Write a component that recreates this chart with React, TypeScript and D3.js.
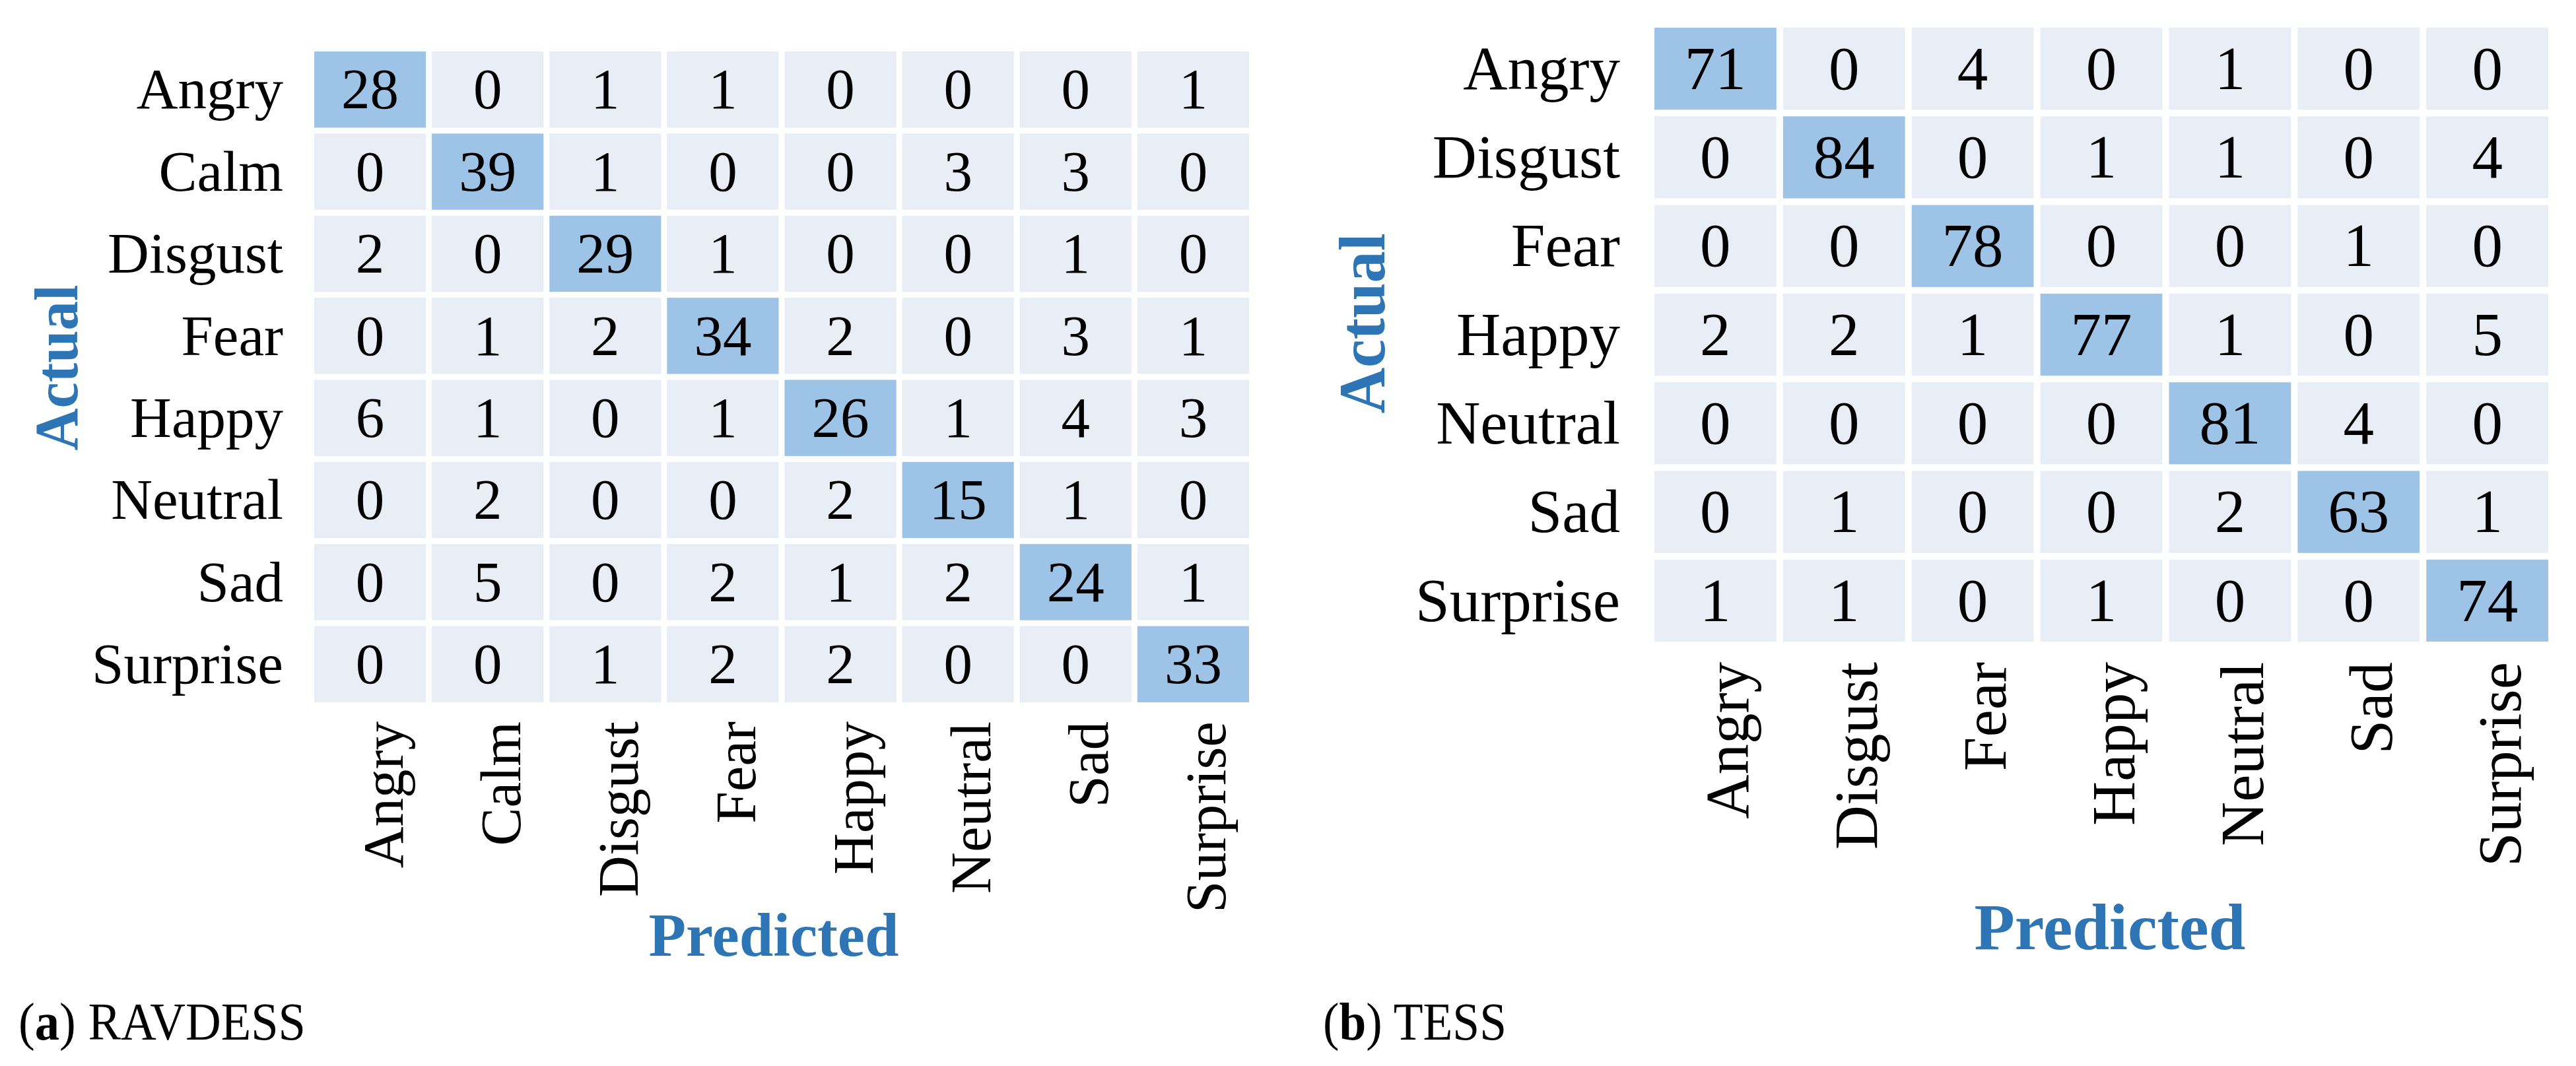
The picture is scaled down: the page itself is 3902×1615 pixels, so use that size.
import React from "react";
import * as d3 from "d3";

// ---------- DATA ----------
const ravdessLabels = ["Angry", "Calm", "Disgust", "Fear", "Happy", "Neutral", "Sad", "Surprise"];
const ravdessMatrix = [
  [28, 0, 1, 1, 0, 0, 0, 1],
  [0, 39, 1, 0, 0, 3, 3, 0],
  [2, 0, 29, 1, 0, 0, 1, 0],
  [0, 1, 2, 34, 2, 0, 3, 1],
  [6, 1, 0, 1, 26, 1, 4, 3],
  [0, 2, 0, 0, 2, 15, 1, 0],
  [0, 5, 0, 2, 1, 2, 24, 1],
  [0, 0, 1, 2, 2, 0, 0, 33],
];

const tessLabels = ["Angry", "Disgust", "Fear", "Happy", "Neutral", "Sad", "Surprise"];
const tessMatrix = [
  [71, 0, 4, 0, 1, 0, 0],
  [0, 84, 0, 1, 1, 0, 4],
  [0, 0, 78, 0, 0, 1, 0],
  [2, 2, 1, 77, 1, 0, 5],
  [0, 0, 0, 0, 81, 4, 0],
  [0, 1, 0, 0, 2, 63, 1],
  [1, 1, 0, 1, 0, 0, 74],
];

const axisTitles = { x: "Predicted", y: "Actual" };
const captionA = { tag: "a", name: "RAVDESS" };
const captionB = { tag: "b", name: "TESS" };

// ---------- STYLE ----------
const FONT = '"Liberation Serif", "Times New Roman", Times, serif';
const LIGHT = "#E8EDF6";
const DARK = "#9DC3E6";
const TITLE_BLUE = "#2E75B6";

type Layout = {
  x0: number; x1: number; y0: number; y1: number;
  padX: number; padY: number;
  font: number;
  rowLabelX: number;
  colLabelTop: number;
  colLabelShift: number;
  titleFont: number;
  xTitleX: number; xTitleY: number; xTitleLen: number;
  yTitleX: number; yTitleY: number; yTitleLen: number;
};

function Matrix({ labels, matrix, L }: { labels: string[]; matrix: number[][]; L: Layout }) {
  const idx = labels.map((_, i) => i);
  const x = d3.scaleBand<number>().domain(idx).range([L.x0, L.x1]).paddingInner(L.padX).paddingOuter(0);
  const y = d3.scaleBand<number>().domain(idx).range([L.y0, L.y1]).paddingInner(L.padY).paddingOuter(0);
  const color = d3.scaleThreshold<number, string>().domain([10]).range([LIGHT, DARK]);

  return (
    <g>
      {matrix.map((row, r) =>
        row.map((v, c) => (
          <g key={`${r}-${c}`}>
            <rect x={x(c)} y={y(r)} width={x.bandwidth()} height={y.bandwidth()} fill={color(v)} />
            <text
              x={(x(c) as number) + x.bandwidth() / 2}
              y={(y(r) as number) + y.bandwidth() / 2}
              dy="0.33em"
              textAnchor="middle"
              fontFamily={FONT}
              fontSize={L.font}
              fill="#000"
            >
              {v}
            </text>
          </g>
        ))
      )}
      {labels.map((lab, r) => (
        <text
          key={`r${r}`}
          x={L.rowLabelX}
          y={(y(r) as number) + y.bandwidth() / 2}
          dy="0.33em"
          textAnchor="end"
          fontFamily={FONT}
          fontSize={L.font}
          fill="#000"
        >
          {lab}
        </text>
      ))}
      {labels.map((lab, c) => {
        const cx = (x(c) as number) + x.bandwidth() / 2 + L.colLabelShift;
        return (
          <text
            key={`c${c}`}
            transform={`translate(${cx},${L.colLabelTop}) rotate(-90)`}
            textAnchor="end"
            fontFamily={FONT}
            fontSize={L.font}
            fill="#000"
          >
            {lab}
          </text>
        );
      })}
      <text
        x={L.xTitleX}
        y={L.xTitleY}
        textAnchor="middle"
        fontFamily={FONT}
        fontWeight="bold"
        fontSize={L.titleFont}
        fill={TITLE_BLUE}
        textLength={L.xTitleLen}
        lengthAdjust="spacingAndGlyphs"
      >
        {axisTitles.x}
      </text>
      <text
        transform={`translate(${L.yTitleX},${L.yTitleY}) rotate(-90)`}
        textAnchor="middle"
        fontFamily={FONT}
        fontWeight="bold"
        fontSize={L.titleFont}
        fill={TITLE_BLUE}
        textLength={L.yTitleLen}
        lengthAdjust="spacingAndGlyphs"
      >
        {axisTitles.y}
      </text>
    </g>
  );
}

function Caption({ x, y, tag, name, len }: { x: number; y: number; tag: string; name: string; len: number }) {
  return (
    <text x={x} y={y} fontFamily={FONT} fontSize={80} fill="#000" textLength={len} lengthAdjust="spacingAndGlyphs">
      (<tspan fontWeight="bold">{tag}</tspan>) {name}
    </text>
  );
}

const leftLayout: Layout = {
  x0: 476, x1: 1892, y0: 78, y1: 1064,
  padX: 0.05, padY: 0.072,
  font: 87,
  rowLabelX: 429,
  colLabelTop: 1093,
  colLabelShift: 49,
  titleFont: 94,
  xTitleX: 1172, xTitleY: 1448, xTitleLen: 379,
  yTitleX: 117, yTitleY: 557, yTitleLen: 251,
};

const rightLayout: Layout = {
  x0: 2506, x1: 3860, y0: 42, y1: 972,
  padX: 0.052, padY: 0.075,
  font: 93,
  rowLabelX: 2454,
  colLabelTop: 1003,
  colLabelShift: 50,
  titleFont: 100,
  xTitleX: 3196, xTitleY: 1438, xTitleLen: 411,
  yTitleX: 2097, yTitleY: 490, yTitleLen: 273,
};

export default function App() {
  return (
    <svg
      width={3902}
      height={1615}
      viewBox="0 0 3902 1615"
      style={{ position: "absolute", left: 0, top: 0, background: "#fff" }}
    >
      <rect x={0} y={0} width={3902} height={1615} fill="#fff" />
      <Matrix labels={ravdessLabels} matrix={ravdessMatrix} L={leftLayout} />
      <Matrix labels={tessLabels} matrix={tessMatrix} L={rightLayout} />
      <Caption x={28} y={1575} tag={captionA.tag} name={captionA.name} len={435} />
      <Caption x={2004} y={1575} tag={captionB.tag} name={captionB.name} len={278} />
    </svg>
  );
}
